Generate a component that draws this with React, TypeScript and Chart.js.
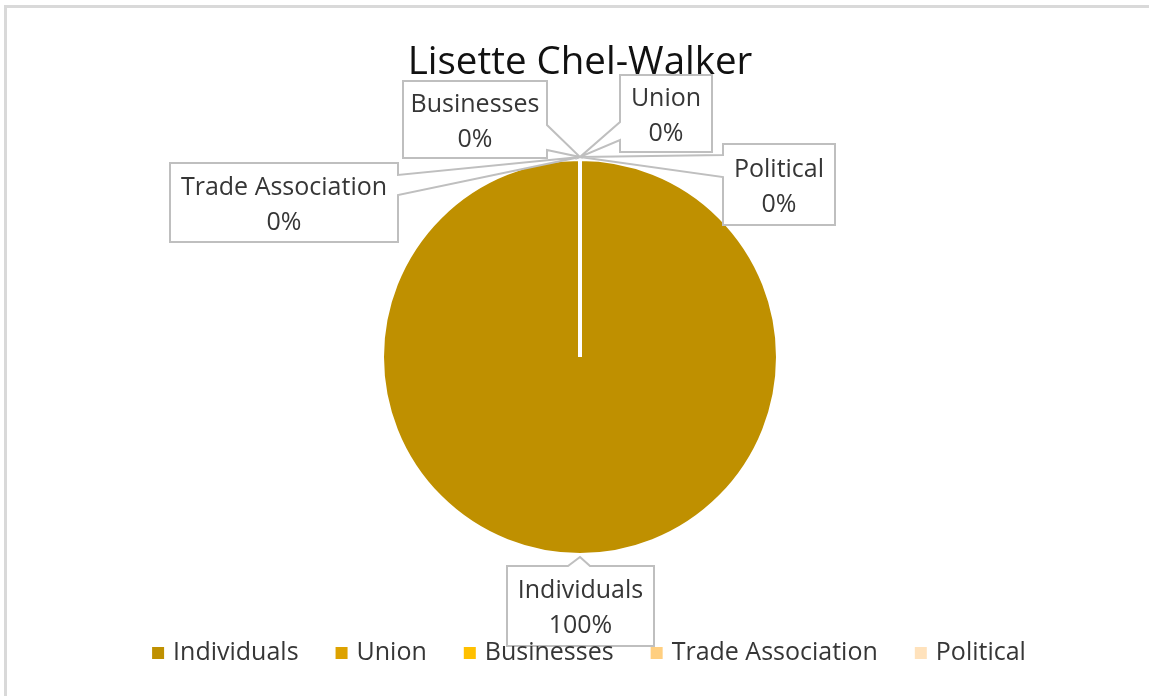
import React, { useEffect, useRef } from "react";
import { Chart, registerables } from "chart.js";

Chart.register(...registerables);

// ---- data ----
const chartTitle = "Lisette Chel-Walker";
const categories = ["Individuals", "Union", "Businesses", "Trade Association", "Political"];
const values = [100, 0, 0, 0, 0];
const sliceColors = ["#BF9000", "#DDA200", "#FFC000", "#FFCF80", "#FFE2BC"];

// ---- label callout layout (offsets from each slice's anchor point) ----
// [x1, x2, y1, y2, side, wedgeStart, wedgeEnd]
type Callout = [number, number, number, number, "left" | "right" | "top" | "bottom", number, number];
const calloutLayout: Callout[] = [
  [-73, 74, 9, 89, "top", -12, 10],
  [40, 132, -82, -5, "left", -35, -17],
  [-177, -33, -76, 1, "right", -32, -7],
  [-410, -182, 6, 85, "right", 18, 38],
  [143, 255, -13, 68, "left", -2, 20],
];

const FONT = "'Open Sans', 'Noto Sans', sans-serif";

function drawCallout(ctx: CanvasRenderingContext2D, ax: number, ay: number, c: Callout) {
  const [dx1, dx2, dy1, dy2, side, w1, w2] = c;
  const x1 = ax + dx1, x2 = ax + dx2, y1 = ay + dy1, y2 = ay + dy2;
  ctx.beginPath();
  ctx.moveTo(x1, y1);
  if (side === "top") {
    ctx.lineTo(ax + w1, y1);
    ctx.lineTo(ax, ay);
    ctx.lineTo(ax + w2, y1);
  }
  ctx.lineTo(x2, y1);
  if (side === "right") {
    ctx.lineTo(x2, ay + w1);
    ctx.lineTo(ax, ay);
    ctx.lineTo(x2, ay + w2);
  }
  ctx.lineTo(x2, y2);
  if (side === "bottom") {
    ctx.lineTo(ax + w2, y2);
    ctx.lineTo(ax, ay);
    ctx.lineTo(ax + w1, y2);
  }
  ctx.lineTo(x1, y2);
  if (side === "left") {
    ctx.lineTo(x1, ay + w2);
    ctx.lineTo(ax, ay);
    ctx.lineTo(x1, ay + w1);
  }
  ctx.closePath();
  ctx.fillStyle = "#ffffff";
  ctx.fill();
  ctx.lineWidth = 2;
  ctx.strokeStyle = "#BFBFBF";
  ctx.lineJoin = "miter";
  ctx.stroke();
  return { cx: (x1 + x2) / 2, cy: (y1 + y2) / 2 };
}

const decorPlugin = {
  id: "decor",
  beforeDraw(chart: any) {
    const ctx: CanvasRenderingContext2D = chart.ctx;
    ctx.save();
    ctx.fillStyle = "#ffffff";
    ctx.fillRect(0, 0, chart.width, chart.height);
    // chart frame
    ctx.fillStyle = "#D9D9D9";
    ctx.fillRect(4, 5, 3, chart.height);
    ctx.fillRect(4, 5, chart.width, 3);
    ctx.restore();
  },
  afterDraw(chart: any) {
    const ctx: CanvasRenderingContext2D = chart.ctx;
    ctx.save();
    // title
    const area = chart.chartArea;
    const centerX = (area.left + area.right) / 2;
    ctx.fillStyle = "#111111";
    ctx.font = `38.5px ${FONT}`;
    ctx.textAlign = "center";
    ctx.textBaseline = "alphabetic";
    ctx.fillText(chartTitle, centerX, 74);

    // data label callouts
    const meta = chart.getDatasetMeta(0);
    const total = values.reduce((a, b) => a + b, 0);
    meta.data.forEach((arc: any, i: number) => {
      const p = arc.getProps(["x", "y", "startAngle", "endAngle", "outerRadius"], true);
      const mid = (p.startAngle + p.endAngle) / 2;
      const r = p.outerRadius + 2;
      const ax = p.x + Math.cos(mid) * r;
      const ay = p.y + Math.sin(mid) * r;
      const { cx, cy } = drawCallout(ctx, ax, ay, calloutLayout[i]);
      ctx.fillStyle = "#363636";
      ctx.font = `25px ${FONT}`;
      ctx.textAlign = "center";
      ctx.textBaseline = "middle";
      const pct = Math.round((values[i] / total) * 100) + "%";
      ctx.fillText(categories[i], cx, cy - 15);
      ctx.fillText(pct, cx, cy + 20);
    });

    // legend
    ctx.font = `25px ${FONT}`;
    const box = 11, gap = 10, spacing = 37;
    const widths = categories.map((c) => box + gap + ctx.measureText(c).width);
    const totalW = widths.reduce((a, b) => a + b, 0) + spacing * (categories.length - 1);
    let x = 589 - totalW / 2;
    const ly = 653;
    categories.forEach((c, i) => {
      ctx.fillStyle = sliceColors[i];
      ctx.fillRect(x, ly - 6, box + 1, box + 1);
      ctx.fillStyle = "#363636";
      ctx.textAlign = "left";
      ctx.textBaseline = "middle";
      ctx.fillText(c, x + box + gap, ly);
      x += widths[i] + spacing;
    });
    ctx.restore();
  },
};

export default function App() {
  const ref = useRef<HTMLCanvasElement | null>(null);
  useEffect(() => {
    if (!ref.current) return;
    const chart = new Chart(ref.current, {
      type: "pie",
      data: {
        labels: categories,
        datasets: [
          {
            data: values,
            backgroundColor: sliceColors,
            borderColor: "#ffffff",
            borderWidth: 4,
            radius: 198,
          } as any,
        ],
      },
      options: {
        animation: false,
        responsive: false,
        layout: { padding: { left: 11, right: 0, top: 100, bottom: 82 } },
        plugins: {
          legend: { display: false },
          title: { display: false },
          tooltip: { enabled: false },
        },
      },
      plugins: [decorPlugin],
    });
    return () => chart.destroy();
  }, []);
  return (
    <div style={{ position: "fixed", left: 0, top: 0, width: 1149, height: 696, background: "#fff" }}>
      <canvas ref={ref} width={1149} height={696} style={{ display: "block" }} />
    </div>
  );
}
